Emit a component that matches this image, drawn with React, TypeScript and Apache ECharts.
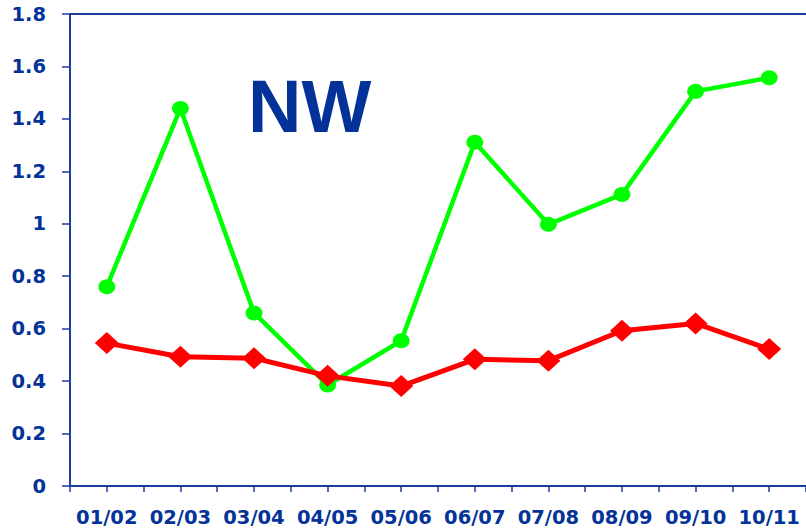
import React, { useEffect, useRef } from "react";
import * as echarts from "echarts";

const categories = ["01/02", "02/03", "03/04", "04/05", "05/06", "06/07", "07/08", "08/09", "09/10", "10/11"];
const greenValues = [0.76, 1.44, 0.66, 0.385, 0.554, 1.311, 0.998, 1.112, 1.505, 1.557];
const redValues = [0.545, 0.493, 0.487, 0.42, 0.381, 0.483, 0.478, 0.592, 0.62, 0.522];
const titleText = "NW";

const LABEL = "#033399";
const AXIS = "#1a3d9e";
const FONT = "DejaVu Sans";

export default function App() {
  const ref = useRef<HTMLDivElement>(null);
  useEffect(() => {
    if (!ref.current) return;
    const chart = echarts.init(ref.current, null, { renderer: "svg" });
    chart.setOption({
      animation: false,
      backgroundColor: "#ffffff",
      grid: { left: 70, right: -4, top: 14, bottom: 45, containLabel: false },
      graphic: [
        {
          type: "text",
          left: 248,
          top: 69,
          z: 10,
          style: {
            text: titleText,
            fontSize: 74,
            fontWeight: "bold",
            fontFamily: "Liberation Sans",
            fill: LABEL,
          },
        },
      ],
      xAxis: [
        {
          type: "category",
          data: categories,
          position: "bottom",
          boundaryGap: true,
          axisLine: { show: true, lineStyle: { color: AXIS, width: 2 } },
          axisTick: { show: true, length: 6, lineStyle: { color: AXIS, width: 1.5 } },
          axisLabel: {
            color: LABEL,
            fontSize: 19.5,
            fontWeight: "bold",
            fontFamily: FONT,
            margin: 21,
            interval: 0,
          },
          splitLine: { show: false },
        },
        {
          type: "category",
          data: categories,
          position: "bottom",
          boundaryGap: true,
          axisLine: { show: false },
          axisTick: { show: true, alignWithLabel: true, length: 6, lineStyle: { color: AXIS, width: 1.5 } },
          axisLabel: { show: false },
          splitLine: { show: false },
        },
        {
          type: "category",
          data: categories,
          position: "top",
          boundaryGap: true,
          axisLine: { show: true, lineStyle: { color: AXIS, width: 2 } },
          axisTick: { show: false },
          axisLabel: { show: false },
          splitLine: { show: false },
        },
      ],
      yAxis: {
        type: "value",
        min: 0,
        max: 1.8,
        interval: 0.2,
        axisLine: { show: true, lineStyle: { color: AXIS, width: 2 } },
        axisTick: { show: true, length: 8, lineStyle: { color: AXIS, width: 1.5 } },
        axisLabel: {
          color: LABEL,
          fontSize: 19.5,
          fontWeight: "bold",
          fontFamily: FONT,
          margin: 24,
          formatter: (v: number) => String(Math.round(v * 10) / 10),
        },
        splitLine: { show: false },
      },
      series: [
        {
          type: "line",
          xAxisIndex: 0,
          data: greenValues,
          symbol: "path://M0,7.5A8.5,7.5,0,1,1,17,7.5A8.5,7.5,0,1,1,0,7.5Z",
          symbolSize: [17, 15],
          lineStyle: { color: "#00ff00", width: 4.5 },
          itemStyle: { color: "#00ff00" },
          z: 2,
        },
        {
          type: "line",
          xAxisIndex: 0,
          data: redValues,
          symbol: "diamond",
          symbolSize: [24, 22],
          lineStyle: { color: "#ff0000", width: 5 },
          itemStyle: { color: "#ff0000" },
          z: 3,
        },
      ],
    });
    return () => chart.dispose();
  }, []);
  return <div ref={ref} style={{ width: 806, height: 531, position: "absolute", left: 0, top: 0 }} />;
}
